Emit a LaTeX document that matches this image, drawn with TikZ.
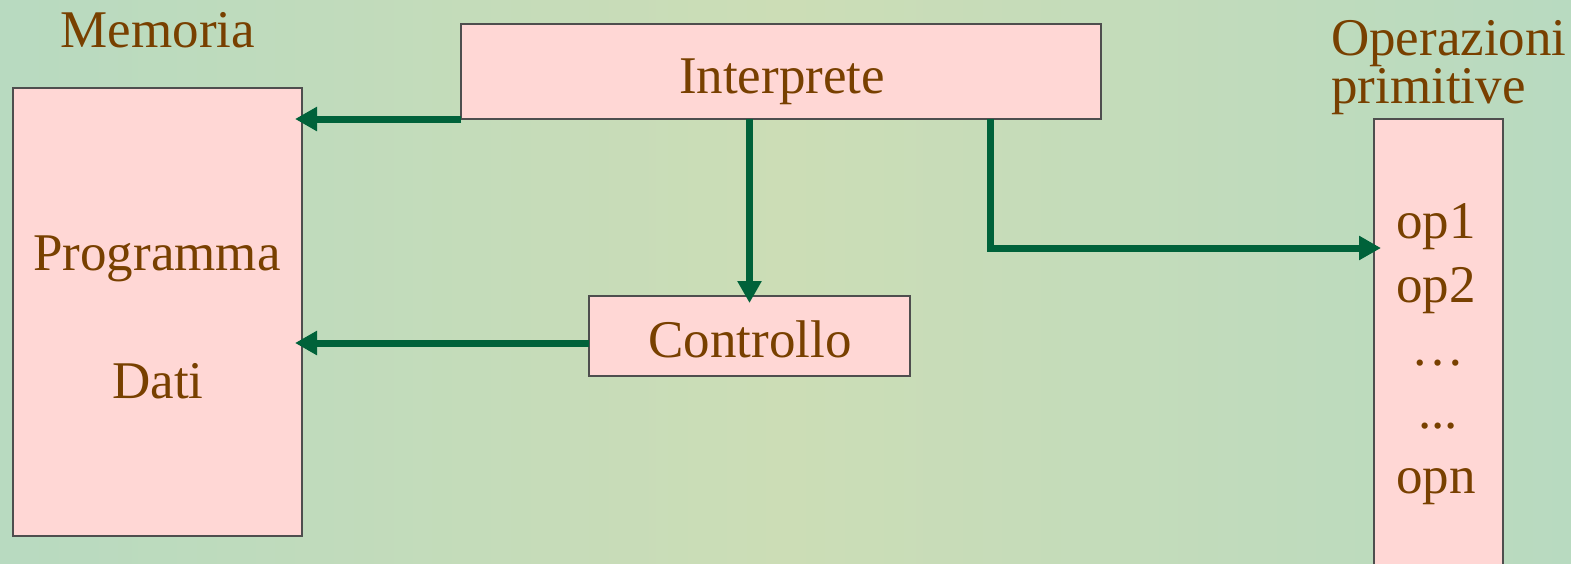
\documentclass[tikz,border=0pt]{standalone}
\usepackage{fontspec}
\setmainfont{Liberation Serif}
\usetikzlibrary{arrows.meta,calc}

\definecolor{bgwarm}{HTML}{CCDDB6}
\definecolor{bgcool}{HTML}{B8DAC0}
\definecolor{boxfill}{HTML}{FFD7D5}
\definecolor{boxline}{HTML}{4E4E4E}
\definecolor{txt}{HTML}{784000}
\definecolor{arrowgreen}{HTML}{00623A}

\tikzset{
  unitbox/.style={draw=boxline, line width=2.5pt, fill=boxfill,
    rectangle, inner sep=0pt, outer sep=0pt},
  lbl/.style={text=txt, inner sep=0pt, anchor=base,
    font=\fontsize{53}{64}\selectfont},
  link/.style={draw=arrowgreen, line width=7pt,
    -{Triangle[length=22pt,width=23pt]}, shorten >=-7pt},
}

\begin{document}
\begin{tikzpicture}[x=1pt, y=-1pt]
  % page and background
  \clip (0,0) rectangle (1571,563);
  \shade[left color=bgcool, right color=bgcool, middle color=bgwarm]
    (0,0) rectangle (1571,563);

  % blocks
  \node[unitbox, minimum width=289, minimum height=448] (mem) at (157.5,312) {};
  \node[unitbox, minimum width=640, minimum height=95] (interp) at (781,71.5) {};
  \node[unitbox, minimum width=321, minimum height=80] (ctrl) at (749.5,336) {};
  \node[unitbox, minimum width=129, minimum height=501] (ops) at (1438.5,369.5) {};

  % texts
  \node[lbl] (memt) at (158,47) {Memoria};
  \node[lbl] (prog) at (157,270) {Programma};
  \node[lbl] (dati) at (158,398) {Dati};
  \node[lbl] (interpt) at (782,93) {Interprete};
  \node[lbl] (ctrlt) at (750,357) {Controllo};
  \node[lbl, anchor=base west, align=left,
        font=\fontsize{53}{48}\selectfont] (opt) at (1331,103)
        {Operazioni\\primitive};
  \node[lbl] (op1) at (1436,238) {op1};
  \node[lbl] (op2) at (1436,302) {op2};
  \node[lbl] (opd1) at (1438,365) {…};
  \node[lbl] (opd2) at (1438,428) {...};
  \node[lbl] (opn) at (1436,493) {opn};

  % connectors
  \coordinate (bend) at (990,248);
  \draw[link] (interp.south west) -- (interp.south west -| mem.east);
  \draw[link] ([yshift=-7pt]ctrl.west) -- ([yshift=-7pt]ctrl.west -| mem.east);
  \draw[link] (interp.south -| ctrl.north) -- (ctrl.north);
  \draw[link] (interp.south -| bend) |- (bend -| ops.west);
\end{tikzpicture}
\end{document}
